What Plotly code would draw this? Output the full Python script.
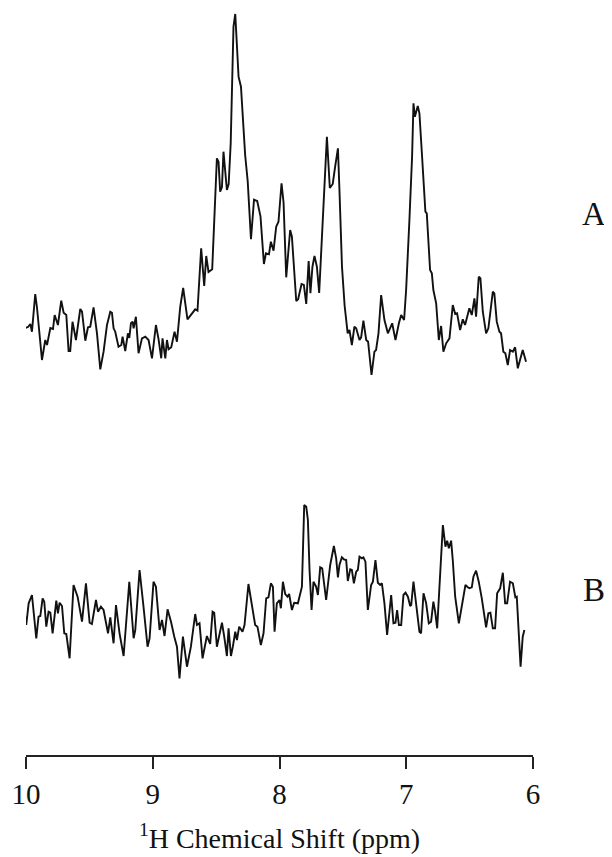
import plotly.graph_objects as go

# 1H NMR spectra, chemical shift (ppm) and intensity (arbitrary units)
ppm_A = [10.032, 10.006, 9.984, 9.966, 9.953, 9.927, 9.913, 9.874, 9.848, 9.834,
         9.808, 9.787, 9.774, 9.748, 9.722, 9.703, 9.682, 9.664, 9.651, 9.633,
         9.606, 9.572, 9.558, 9.532, 9.511, 9.493, 9.467, 9.440, 9.414, 9.388,
         9.361, 9.335, 9.322, 9.309, 9.296, 9.270, 9.248, 9.238, 9.217, 9.196,
         9.185, 9.172, 9.159, 9.151, 9.133, 9.112, 9.085, 9.059, 9.033, 9.006,
         8.975, 8.954, 8.933, 8.923, 8.901, 8.888, 8.875, 8.854, 8.828, 8.809,
         8.783, 8.760, 8.726, 8.691, 8.665, 8.647, 8.618, 8.594, 8.578, 8.560,
         8.531, 8.494, 8.481, 8.468, 8.454, 8.442, 8.415, 8.401, 8.385, 8.363,
         8.349, 8.323, 8.304, 8.271, 8.251, 8.225, 8.201, 8.176, 8.150, 8.123,
         8.107, 8.083, 8.068, 8.047, 8.026, 8.008, 7.984, 7.968, 7.947, 7.916,
         7.902, 7.868, 7.853, 7.826, 7.808, 7.789, 7.770, 7.756, 7.740, 7.724,
         7.705, 7.687, 7.669, 7.650, 7.626, 7.603, 7.580, 7.561, 7.539, 7.527,
         7.507, 7.486, 7.462, 7.448, 7.429, 7.409, 7.395, 7.369, 7.356, 7.338,
         7.316, 7.301, 7.274, 7.251, 7.238, 7.219, 7.198, 7.172, 7.145, 7.111,
         7.085, 7.058, 7.040, 7.017, 7.001, 6.975, 6.954, 6.943, 6.932, 6.909,
         6.896, 6.875, 6.849, 6.838, 6.812, 6.798, 6.786, 6.764, 6.743, 6.725,
         6.707, 6.685, 6.659, 6.633, 6.614, 6.599, 6.575, 6.554, 6.536, 6.502,
         6.483, 6.462, 6.449, 6.428, 6.415, 6.396, 6.370, 6.352, 6.317, 6.305,
         6.286, 6.265, 6.252, 6.234, 6.218, 6.199, 6.181, 6.159, 6.141, 6.120,
         6.102, 6.081, 6.055]
int_A = [31.7, 47, 48, 51, 43.3, 81, 67, 15, 35, 30,
         47, 46, 60, 50, 74.3, 62.3, 60, 24, 24, 53.3,
         35, 66, 63.3, 34.3, 47.7, 48.3, 67.7, 41.7, 5.7, 23.3,
         50, 63.3, 62.3, 46.7, 43.3, 28.3, 30, 38.3, 24, 41.7,
         37, 51.7, 53.3, 46.7, 58.3, 21.7, 36.7, 38.3, 35, 16.7,
         50, 35.7, 16.7, 36.7, 16.7, 35, 25.7, 27.7, 43.3, 33.3,
         68.3, 87, 55.7, 61.7, 65.7, 64.3, 126.7, 89, 119, 103,
         105.7, 216.7, 213.3, 183.3, 188, 223.3, 185, 191, 231.7, 348.3,
         361, 298.3, 288.3, 220, 194, 135.7, 175.3, 174, 158.7, 111,
         121.7, 120.7, 133.3, 124.3, 148.3, 153.3, 191.7, 172.5, 97.7, 145,
         138.3, 74, 75.7, 91, 90, 71, 114, 81.7, 108.3, 119,
         108.3, 82, 132, 181.7, 238.3, 187, 191, 208.3, 226.7, 185,
         108.3, 69, 41.7, 45, 30, 48.3, 46.7, 35, 37.7, 54.3,
         35, 33.3, 0, 23.3, 25, 41.7, 80, 55, 41.7, 51.7,
         35, 51.7, 60, 55, 85, 155, 218.3, 271.7, 258.3, 269,
         261.7, 218.3, 163.3, 161.7, 105, 101.7, 85, 71.7, 35, 49,
         23.3, 31.7, 36.7, 70, 61, 61.7, 45, 55.7, 50, 66.7,
         60, 76.7, 58.3, 98.3, 96.7, 63.3, 41.7, 46.7, 83.3, 81.7,
         53.3, 43.3, 41.7, 23.3, 21.7, 10, 25, 23.3, 27.7, 6.7,
         16.7, 25, 13.3]

ppm_B = [10.013, 9.998, 9.979, 9.953, 9.919, 9.901, 9.887, 9.869, 9.856, 9.840,
         9.822, 9.808, 9.790, 9.761, 9.748, 9.735, 9.716, 9.698, 9.682, 9.656,
         9.625, 9.593, 9.558, 9.527, 9.498, 9.480, 9.448, 9.432, 9.409, 9.388,
         9.353, 9.335, 9.309, 9.290, 9.262, 9.230, 9.185, 9.151, 9.138, 9.104,
         9.073, 9.041, 9.025, 8.994, 8.975, 8.946, 8.927, 8.907, 8.883, 8.856,
         8.830, 8.809, 8.789, 8.762, 8.730, 8.699, 8.665, 8.651, 8.631, 8.607,
         8.573, 8.547, 8.528, 8.515, 8.494, 8.473, 8.454, 8.436, 8.415, 8.402,
         8.383, 8.368, 8.349, 8.336, 8.318, 8.292, 8.276, 8.245, 8.192, 8.174,
         8.147, 8.126, 8.105, 8.087, 8.068, 8.052, 8.039, 8.021, 8.000, 7.989,
         7.973, 7.955, 7.937, 7.924, 7.902, 7.884, 7.855, 7.823, 7.805, 7.789,
         7.776, 7.763, 7.747, 7.732, 7.711, 7.697, 7.679, 7.663, 7.632, 7.600,
         7.571, 7.553, 7.539, 7.527, 7.508, 7.492, 7.474, 7.461, 7.442, 7.429,
         7.413, 7.395, 7.382, 7.369, 7.350, 7.338, 7.322, 7.303, 7.277, 7.263,
         7.243, 7.224, 7.206, 7.192, 7.172, 7.151, 7.119, 7.101, 7.085, 7.072,
         7.058, 7.040, 7.022, 7.006, 6.987, 6.969, 6.961, 6.943, 6.916, 6.896,
         6.883, 6.864, 6.843, 6.822, 6.804, 6.786, 6.772, 6.756, 6.738, 6.711,
         6.691, 6.677, 6.664, 6.646, 6.633, 6.614, 6.585, 6.559, 6.533, 6.514,
         6.502, 6.483, 6.470, 6.449, 6.428, 6.404, 6.388, 6.370, 6.352, 6.336,
         6.317, 6.299, 6.283, 6.259, 6.238, 6.220, 6.204, 6.181, 6.159, 6.139,
         6.128, 6.098, 6.081, 6.068]
int_B = [68.3, 55, 76.7, 85, 41.7, 63.3, 64, 81.7, 78.3, 53.3,
         68.3, 67.3, 46.7, 79.3, 66.7, 77.3, 74, 46.7, 46, 21.7,
         95, 83.3, 58.3, 96.7, 57.3, 56, 80, 68.3, 73.3, 70,
         46.7, 62.7, 36.7, 75, 46.7, 24, 98.3, 41.7, 50, 110,
         73.3, 33.3, 41.7, 98.3, 93.3, 50, 60, 44, 70.7, 58.3,
         43.3, 33.3, 1.7, 43.3, 13.3, 33.3, 66, 55, 56.7, 21.7,
         44, 36, 68.3, 67.3, 33.3, 45, 57.3, 43.3, 24, 51.7,
         24, 33.3, 48.3, 40, 53.3, 48.3, 55, 96, 55, 53.3,
         35, 46.7, 81.7, 82.7, 96.7, 93.3, 48.3, 76.7, 80, 71.7,
         98.3, 86, 83.3, 86, 70, 77.3, 76.7, 93.3, 175, 173.3,
         160, 110, 70, 98.3, 93.3, 85, 112.7, 111.7, 80, 115,
         134, 121.7, 102.7, 115, 122.7, 120.7, 120, 99, 110.7, 110,
         96.7, 108.3, 110, 123.3, 121.7, 122.7, 118.3, 70, 95, 98.3,
         120, 97.3, 95, 96.7, 76.7, 45, 85, 56.7, 57.3, 70,
         55, 55, 85, 87.3, 83.3, 74, 75, 98.3, 70, 48.3,
         46.7, 86.7, 76.7, 56.7, 58.3, 78.3, 68.3, 51.7, 93.3, 155,
         133.3, 139.3, 131.7, 139.3, 120, 83.3, 56.7, 78.3, 95, 92.7,
         91.7, 92.7, 103.3, 109.3, 98.3, 81.7, 66.7, 52.7, 66.7, 67.3,
         51.7, 51.7, 86.7, 91.7, 107.3, 76.7, 76.7, 98.3, 96.7, 82.7,
         83.3, 13.3, 43.3, 50]

x_ticks = [10, 9, 8, 7, 6]
labels = ["A", "B"]

SERIF = "Liberation Serif, Times New Roman, serif"
LINE = dict(color="#111111", width=1.9)

fig = go.Figure()
fig.add_trace(go.Scatter(x=ppm_B, y=int_B, mode="lines", line=LINE,
                         yaxis="y", showlegend=False, hoverinfo="skip"))
fig.add_trace(go.Scatter(x=ppm_A, y=int_A, mode="lines", line=LINE,
                         yaxis="y2", showlegend=False, hoverinfo="skip"))

fig.update_layout(
    width=612, height=857,
    margin=dict(l=18, r=87, t=0, b=110),
    paper_bgcolor="white", plot_bgcolor="white",
    font=dict(family=SERIF, color="#111111"),
    xaxis=dict(
        range=[10, 6], tickvals=x_ticks, ticktext=[str(t) for t in x_ticks],
        showgrid=False, zeroline=False,
        showline=True, linecolor="#222222", linewidth=1.5,
        ticks="outside", ticklen=12, tickwidth=1.5, tickcolor="#222222",
        tickfont=dict(family=SERIF, size=29, color="#111111"),
        title=dict(text="<sup>1</sup>H Chemical Shift (ppm)",
                   font=dict(family=SERIF, size=28, color="#111111"),
                   standoff=20),
    ),
    yaxis=dict(range=[-75, 672], visible=False, showgrid=False, zeroline=False),
    yaxis2=dict(range=[-380, 367], visible=False, showgrid=False, zeroline=False,
                overlaying="y"),
    annotations=[
        dict(text=labels[0], xref="paper", yref="paper", x=1.1196, y=0.7242,
             xanchor="center", yanchor="middle",
             showarrow=False, font=dict(family=SERIF, size=33, color="#111111")),
        dict(text=labels[1], xref="paper", yref="paper", x=1.1196, y=0.2209,
             xanchor="center", yanchor="middle",
             showarrow=False, font=dict(family=SERIF, size=33, color="#111111")),
    ],
)

fig.write_html("out.html")
